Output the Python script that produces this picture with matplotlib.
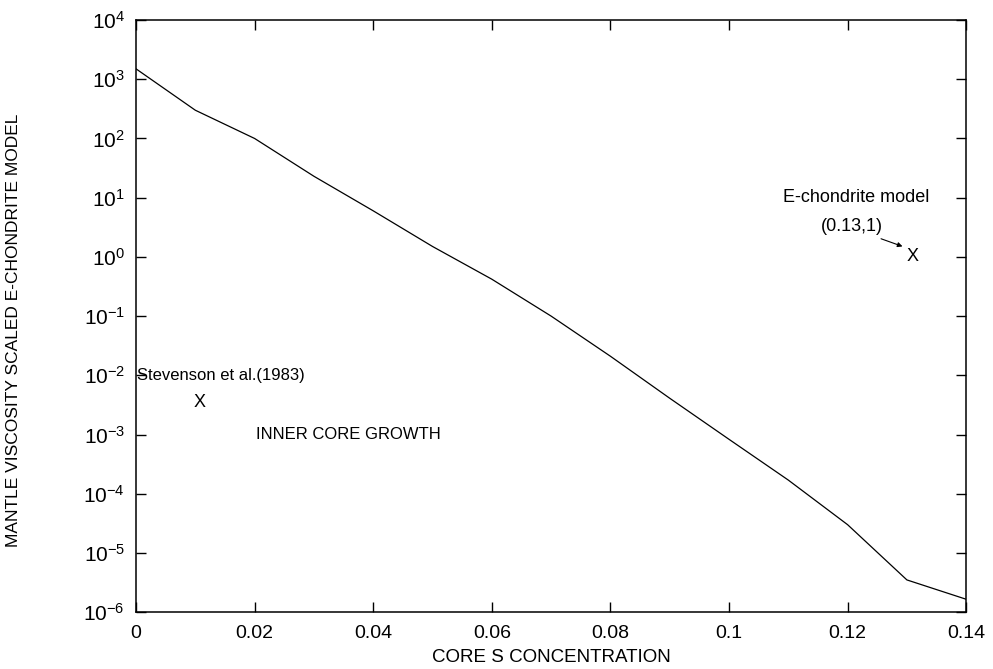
import numpy as np
import matplotlib
matplotlib.use("Agg")
from matplotlib import pyplot as plt
from matplotlib.ticker import FixedLocator, FuncFormatter, NullLocator

plt.rcParams['font.family'] = ['Liberation Sans', 'DejaVu Sans']
plt.rcParams['mathtext.fontset'] = 'custom'
plt.rcParams['mathtext.rm'] = 'Liberation Sans'
plt.rcParams['mathtext.it'] = 'Liberation Sans'
plt.rcParams['axes.unicode_minus'] = False
plt.rcParams['font.size'] = 12

# core S concentration vs scaled mantle viscosity
s_conc = [0.0, 0.01, 0.02, 0.03, 0.04, 0.05, 0.06, 0.07, 0.08, 0.09, 0.10, 0.11, 0.12, 0.13, 0.14]
viscosity = [1500, 300, 100, 23, 6.0, 1.5, 0.42, 0.1, 0.021, 0.0041, 8.3e-4, 1.7e-4, 3.0e-5, 3.5e-6, 1.65e-6]

stevenson_pt = (0.0108, 3.5e-3)
echondrite_pt = (0.131, 1.0)

x_ticks = [0, 0.02, 0.04, 0.06, 0.08, 0.1, 0.12, 0.14]
y_ticks = [10.0 ** k for k in range(-6, 5)]

fig = plt.figure(figsize=(9.93, 6.69), dpi=100)
ax = fig.add_axes([0.137, 0.085, 0.836, 0.885])

ax.plot(s_conc, viscosity, color='black', linewidth=0.9)
ax.set_yscale('log')
ax.set_xlim(0, 0.14)
ax.set_ylim(1e-6, 1e4)

ax.xaxis.set_major_locator(FixedLocator(x_ticks))
ax.xaxis.set_major_formatter(FuncFormatter(lambda v, p: '%g' % v))
ax.yaxis.set_major_locator(FixedLocator(y_ticks))
ax.yaxis.set_major_formatter(FuncFormatter(lambda v, p: r'$10^{%d}$' % round(np.log10(v))))
ax.yaxis.set_minor_locator(NullLocator())
ax.tick_params(direction='in', length=7, width=1, top=True, right=True)
ax.tick_params(axis='x', pad=9, labelsize=14)
ax.tick_params(axis='y', pad=8, labelsize=15)
for sp in ax.spines.values():
    sp.set_linewidth(1.1)

ax.set_xlabel('CORE S CONCENTRATION', fontsize=13.5)
ax.xaxis.set_label_coords(0.5, -0.062)
ax.set_ylabel('MANTLE VISCOSITY SCALED E-CHONDRITE MODEL', fontsize=12.5)
ax.yaxis.set_label_coords(-0.138, 0.476)

ax.text(0.0001, 1.0e-2, 'Stevenson et al.(1983)', ha='left', va='center', fontsize=12)
ax.text(stevenson_pt[0], stevenson_pt[1], 'X', ha='center', va='center', fontsize=13)
ax.text(0.0202, 1.0e-3, 'INNER CORE GROWTH', ha='left', va='center', fontsize=12)

ax.text(0.1215, 10.0, 'E-chondrite model', ha='center', va='center', fontsize=13)
ax.text(0.1208, 3.2, '(0.13,1)', ha='center', va='center', fontsize=13)
ax.annotate('', xy=(0.1297, 1.45), xytext=(0.1252, 2.1),
            arrowprops=dict(arrowstyle='-|>', color='black', lw=0.8, mutation_scale=7))
ax.text(echondrite_pt[0], echondrite_pt[1], 'X', ha='center', va='center', fontsize=13)

fig.savefig('out.png', dpi=100)
